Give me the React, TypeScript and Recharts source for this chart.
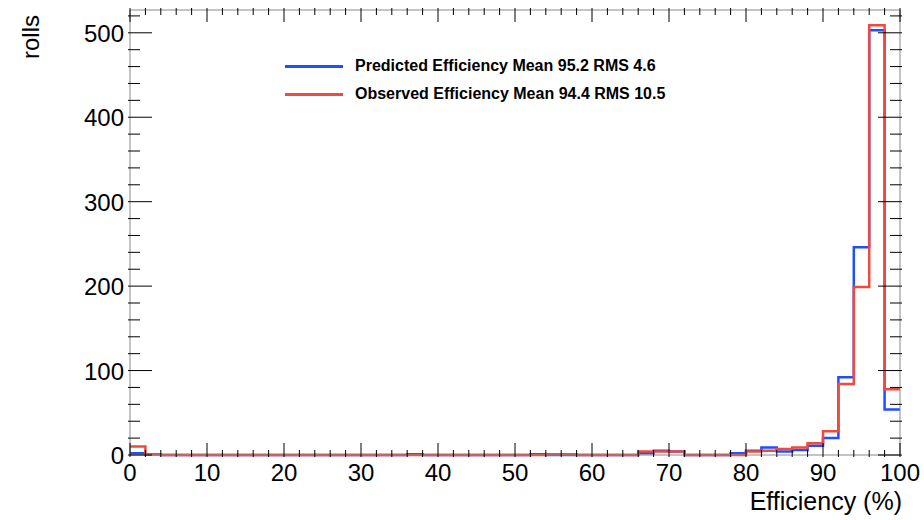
import React from 'react';
import { ComposedChart, Line, XAxis, YAxis } from 'recharts';

// bin lower edges, 2% wide bins from 0 to 100
const binEdges = Array.from({ length: 51 }, (_, i) => i * 2);

const predicted = [
  2, 1, 0, 0, 0, 0, 0, 0, 0, 0,
  0, 0, 0, 0, 0, 0, 0, 0, 1, 0,
  0, 0, 0, 0, 0, 0, 1, 0, 0, 0,
  0, 0, 0, 2, 5, 4, 0, 0, 0, 2,
  5, 9, 4, 6, 11, 20, 92, 246, 503, 54,
];
const observed = [
  10, 1, 0, 0, 0, 0, 0, 0, 0, 0,
  0, 0, 0, 0, 0, 0, 0, 0, 0, 0,
  0, 0, 0, 0, 0, 0, 0, 1, 1, 0,
  0, 0, 0, 4, 4, 4, 0, 0, 0, 0,
  4, 5, 7, 9, 14, 28, 84, 199, 509, 78,
];

const xTicks = Array.from({ length: 51 }, (_, i) => i * 2);
const yTicks = Array.from({ length: 27 }, (_, i) => i * 20);

const data = binEdges.map((x, i) => ({
  x,
  p: predicted[Math.min(i, predicted.length - 1)],
  o: observed[Math.min(i, observed.length - 1)],
}));

const font = '"Liberation Sans", Arial, sans-serif';

const XTick = ({ x, y, payload, top }: any) => {
  const major = payload.value % 10 === 0;
  const len = major ? 14 : 7;
  return (
    <g>
      <line x1={x} x2={x} y1={y} y2={top ? y + len : y - len} stroke="#000" strokeWidth={1} />
      {!top && major && (
        <text x={x} y={y + 24} textAnchor="middle" fontSize={24} fontFamily={font} fill="#000">
          {payload.value}
        </text>
      )}
    </g>
  );
};

const YTick = ({ x, y, payload, right }: any) => {
  const major = payload.value % 100 === 0;
  const len = major ? 24 : 12;
  return (
    <g>
      <line x1={x} x2={right ? x - len : x + len} y1={y} y2={y} stroke="#000" strokeWidth={1} />
      {!right && major && (
        <text x={x - 4} y={y + 9} textAnchor="end" fontSize={24} fontFamily={font} fill="#000">
          {payload.value}
        </text>
      )}
    </g>
  );
};

export default function App() {
  return (
    <div style={{ position: 'absolute', left: 0, top: 0, width: 924, height: 520, background: '#fff', fontFamily: font }}>
      <ComposedChart width={924} height={520} data={data} margin={{ top: 9, right: 22, bottom: 35, left: 0 }}>
        <XAxis xAxisId="b" dataKey="x" type="number" domain={[0, 100]} ticks={xTicks} interval={0} height={30}
          tick={<XTick />} tickLine={false} tickSize={0} stroke="#888" />
        <XAxis xAxisId="t" orientation="top" dataKey="x" type="number" domain={[0, 100]} ticks={xTicks} interval={0}
          tick={<XTick top />} tickLine={false} tickSize={0} stroke="#888" height={1} />
        <YAxis yAxisId="l" type="number" domain={[0, 527]} ticks={yTicks} interval={0} width={130}
          tick={<YTick />} tickLine={false} tickSize={0} stroke="#888" />
        <YAxis yAxisId="r" orientation="right" type="number" domain={[0, 527]} ticks={yTicks} interval={0} width={2}
          tick={<YTick right />} tickLine={false} tickSize={0} stroke="#888" />
        <Line xAxisId="t" yAxisId="r" type="stepAfter" dataKey="p" stroke="none" strokeOpacity={0} dot={false} isAnimationActive={false} />
        <Line xAxisId="b" yAxisId="l" type="stepAfter" dataKey="p" stroke="#1f4fff" strokeWidth={2.5} dot={false} isAnimationActive={false} />
        <Line xAxisId="b" yAxisId="l" type="stepAfter" dataKey="o" stroke="#f04a3e" strokeWidth={2.5} dot={false} isAnimationActive={false} />
      </ComposedChart>
      <div style={{ position: 'absolute', left: 2, top: 22, transform: 'rotate(-90deg)', fontSize: 24, width: 60, height: 30, textAlign: 'center' }}>rolls</div>
      <div style={{ position: 'absolute', right: 22, top: 487, fontSize: 25 }}>Efficiency (%)</div>
      <div style={{ position: 'absolute', left: 285, top: 52, fontSize: 16, fontWeight: 'bold', lineHeight: '28px' }}>
        <div><span style={{ display: 'inline-block', width: 58, height: 3, background: '#1f4fff', verticalAlign: 'middle', marginRight: 12 }} />Predicted Efficiency Mean 95.2 RMS 4.6</div>
        <div><span style={{ display: 'inline-block', width: 58, height: 3, background: '#f04a3e', verticalAlign: 'middle', marginRight: 12 }} />Observed Efficiency Mean 94.4 RMS 10.5</div>
      </div>
    </div>
  );
}
